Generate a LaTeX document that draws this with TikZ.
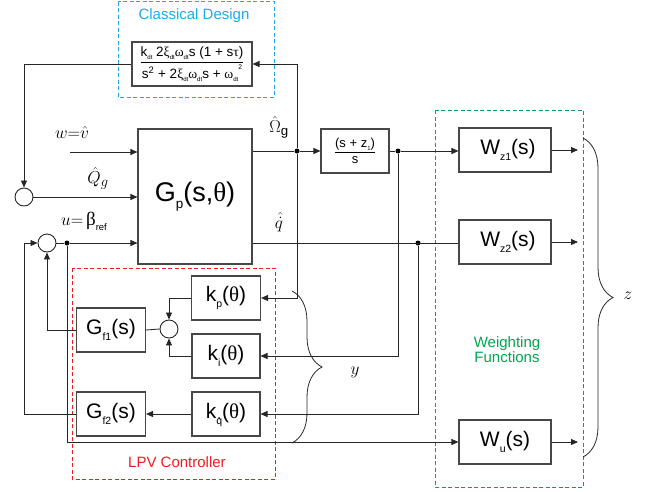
\documentclass[tikz,border=0pt]{standalone}
\usepackage{amsmath}
\usepackage{fontspec}
\usepackage{graphicx}
\setmainfont{Liberation Sans}
\newfontfamily\grk{Liberation Serif}
\usetikzlibrary{arrows.meta,decorations.pathreplacing}
\newcommand\sbs[1]{\raisebox{-0.25em}{\scalebox{0.5}{#1}}}
\newcommand\sbt[1]{\raisebox{-0.2em}{\scalebox{0.45}{#1}}}
\newcommand\qdotsub{\ooalign{q\cr\hidewidth\raisebox{0.42em}{\scalebox{1.5}{.}}\hidewidth\cr}}
\definecolor{cdblue}{RGB}{30,170,230}
\definecolor{lpvred}{RGB}{237,28,36}
\definecolor{wfgreen}{RGB}{0,166,81}
\begin{document}
\begin{tikzpicture}[x=1pt,y=-1pt,
  blk/.style={draw=black!72,line width=1.1pt,inner sep=0pt,minimum height=44pt,font=\fontsize{21}{24}\selectfont},
  sumc/.style={draw=black!85,line width=0.9pt,circle,inner sep=0pt,minimum size=18pt},
  ln/.style={draw=black!85,line width=0.85pt},
  arr/.style={ln,-{Triangle[length=7pt,width=6pt]}},
  jdot/.style={fill=black,circle,inner sep=0pt,minimum size=5pt},
  dbox/.style={line width=1pt,dash pattern=on 4pt off 2.5pt},
  brc/.style={draw=black!85,line width=0.8pt,decorate,decoration={brace,amplitude=30pt}},
  lbl/.style={inner sep=0pt,font=\fontsize{19}{22}\selectfont},
  ttl/.style={inner sep=0pt,font=\fontsize{15}{18}\selectfont}]
\useasboundingbox (0,0) rectangle (651,491);

% dashed groups
\draw[dbox,draw=cdblue] (118,1.5) rectangle (274,97);
\draw[dbox,draw=lpvred] (72,268) rectangle (275,479);
\draw[dbox,draw=wfgreen] (435,110) rectangle (583,487);
\node[ttl,text=cdblue] (tcd) at (194,16) {Classical Design};
\node[ttl,text=lpvred] (tlpv) at (177,462) {LPV Controller};
\node[ttl,text=wfgreen,align=center] (twf) at (507,350) {Weighting\\[-3pt]Functions};

% blocks
\node[blk,minimum width=120pt,font=\fontsize{13.5}{15}\selectfont] (tf) at (192,64)
 {$\displaystyle\frac{\mbox{k\sbt{dt} 2{\grk ξ}\sbt{dt}{\grk ω}\sbt{dt}s (1 + s{\grk τ})}}{\mbox{s\textsuperscript{2} + 2{\grk ξ}\sbt{dt}{\grk ω}\sbt{dt}s + {\grk ω}\sbt{dt}\raisebox{0.7em}{\scalebox{0.5}{2}}}}$};
\node[blk,minimum width=114pt,minimum height=135pt,font=\fontsize{27}{30}\selectfont] (gp) at (195,196.5) {G\sbs{p}(s,{\grk θ})};
\node[blk,minimum width=68pt,font=\fontsize{13}{15}\selectfont] (zb) at (355,151)
 {$\displaystyle\frac{\mbox{(s + z\sbt{1})}}{\mbox{s}}$};
\node[blk,minimum width=92pt] (wz1) at (505,150) {\hspace{6pt}W\sbs{z1}(s)};
\node[blk,minimum width=92pt] (wz2) at (505,242) {\hspace{6pt}W\sbs{z2}(s)};
\node[blk,minimum width=92pt] (wu) at (505,442) {W\sbs{u}(s)};
\node[blk,minimum width=69pt] (kp) at (226,298) {k\sbs{p}({\grk θ})};
\node[blk,minimum width=68pt] (ki) at (226,356) {k\sbs{i}({\grk θ})};
\node[blk,minimum width=68pt] (kq) at (226,414) {k\sbs{\qdotsub}({\grk θ})};
\node[blk,minimum width=69pt] (gf1) at (111,330) {G\sbs{f1}(s)};
\node[blk,minimum width=69pt] (gf2) at (111,414) {G\sbs{f2}(s)};

% summing circles
\node[sumc] (cq) at (24,197) {};
\node[sumc] (cs) at (47,243) {};
\node[sumc] (ck) at (169,329) {};

% junctions and free ends
\node[jdot] (jO) at (297,151) {};
\node[jdot] (jZ) at (398,151) {};
\node[jdot] (jQ) at (418,243) {};
\node[jdot] (jU) at (67,243) {};
\coordinate (ws) at (70,152);
\coordinate (cL) at (24,243);
\coordinate (o1) at (578,150);
\coordinate (o2) at (578,242);
\coordinate (o3) at (578,442);
\coordinate (by1) at (292,291);
\coordinate (by2) at (292,443);
\coordinate (bz1) at (583,138);
\coordinate (bz2) at (583,457);

% labels
\node[lbl] (lw) at (72,132) {$w{=}\hat{v}$};
\node[lbl] (lq) at (98,178) {$\hat{Q}_g$};
\node[lbl] (lu) at (84,221) {$u{=}\,${\grk β}\sbs{ref}};
\node[lbl] (lo) at (279,127) {$\hat{\Omega}_{\mathrm{g}}$};
\node[lbl] (ld) at (279,222) {$\hat{\dot{q}}$};
\node[lbl] (ly) at (355,372) {$y$};
\node[lbl] (lz) at (628,296) {$z$};

% connectors
\draw[arr] (tf.west) -| (cq.north);
\draw[arr] (cq.east) -- (gp.west |- cq);
\draw[arr] (ws) -- (gp.west |- ws);
\draw[ln] (cs.east) -- (jU);
\draw[arr] (jU) -- (gp.west |- jU);
\draw[ln] (gp.east |- jO) -- (jO);
\draw[arr] (jO) -- (zb.west);
\draw[arr] (jO) |- (tf.east);
\draw[arr] (jO) |- (kp.east);
\draw[ln] (zb.east) -- (jZ);
\draw[arr] (jZ) -- (wz1.west |- jZ);
\draw[arr] (jZ) |- (ki.east);
\draw[ln] (gp.east |- jQ) -- (wz2.west |- jQ);
\draw[arr] (jQ) |- (kq.east);
\draw[arr] (jU) |- (wu.west);
\draw[arr] (kp.west) -| (ck.north);
\draw[arr] (ki.west) -| (ck.south);
\draw[ln] (ck.west) -- (gf1.east);
\draw[arr] (kq.west) -- (gf2.east);
\draw[arr] (gf1.west) -| (cs.south);
\draw[ln] (gf2.west) -| (cL);
\draw[arr] (cL) -- (cs.west);
\draw[arr] (wz1.east) -- (o1);
\draw[arr] (wz2.east) -- (o2);
\draw[arr] (wu.east) -- (o3);

% braces
\draw[brc] (by1) -- (by2);
\draw[brc] (bz1) -- (bz2);
\end{tikzpicture}
\end{document}
